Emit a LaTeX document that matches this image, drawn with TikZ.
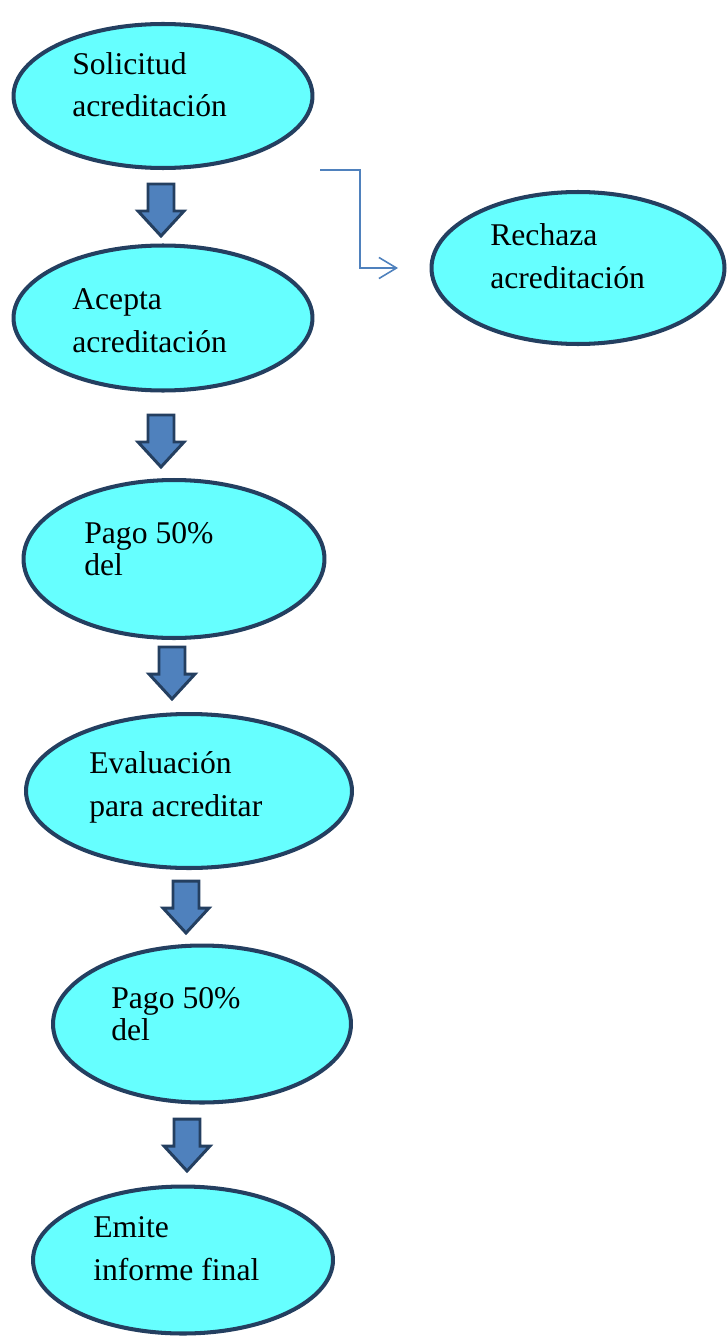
\documentclass[tikz,border=0pt]{standalone}
\usepackage{fontspec}
\setmainfont{Liberation Serif}
\usetikzlibrary{arrows.meta,shapes.geometric}

\definecolor{azul}{HTML}{4F81BD}
\definecolor{marino}{HTML}{243F60}
\definecolor{cian}{HTML}{66FFFF}

\tikzset{
  paso/.style={ellipse, draw=marino, line width=2.3pt, fill=cian, inner sep=0pt},
  texto/.style={anchor=base west, align=left, inner sep=0pt,
    font=\fontsize{18}{24}\selectfont},
  textocorto/.style={texto, font=\fontsize{18}{18}\selectfont},
  flecha/.style={draw=marino, fill=azul, line width=1.7pt, line join=miter},
  salto/.style={draw=azul, line width=0.9pt, -{Straight Barb[length=10pt,width=12pt]}}
}

\begin{document}
\begin{tikzpicture}[x=0.02cm, y=-0.02cm]
  % marco fijo (pixeles de la imagen)
  \useasboundingbox (0,0) rectangle (727,1338);

  % --- ELIPSES ---
  \node[paso, minimum width=5.98cm, minimum height=2.88cm] (solicitud) at (163,96) {};
  \node[paso, minimum width=5.98cm, minimum height=2.9cm]  (acepta)    at (163,318) {};
  \node[paso, minimum width=5.86cm, minimum height=3.04cm] (rechaza)   at (578,268) {};
  \node[paso, minimum width=6.02cm, minimum height=3.16cm] (pago1)     at (174,559) {};
  \node[paso, minimum width=6.52cm, minimum height=3.08cm] (evaluacion) at (189,791) {};
  \node[paso, minimum width=5.96cm, minimum height=3.14cm] (pago2)     at (202,1024) {};
  \node[paso, minimum width=6.0cm,  minimum height=2.94cm] (emite)     at (183,1260) {};

  % --- TEXTOS (base = linea inferior) ---
  \node[texto] (tsolicitud) at (72,117) {Solicitud\\acreditación};
  \node[texto] (tacepta) at (72,352) {Acepta\\acreditación};
  \node[texto] (trechaza) at (490,288) {Rechaza\\acreditación};
  \node[textocorto] (tpago1) at (84,575) {Pago 50\%\\del};
  \node[texto] (tevaluacion) at (89,816) {Evaluación\\para acreditar};
  \node[textocorto] (tpago2) at (111,1040) {Pago 50\%\\del};
  \node[texto] (temite) at (93,1280) {Emite\\informe final};

  % --- FLECHAS DE BLOQUE (centro x / arriba y) ---
  \foreach \cx/\ty in {161/184, 161/415, 172/647, 186/881, 187/1119}
    \draw[flecha] (\cx-13,\ty) -- (\cx+13,\ty) -- (\cx+13,\ty+27) -- (\cx+23,\ty+27)
      -- (\cx,\ty+52) -- (\cx-23,\ty+27) -- (\cx-13,\ty+27) -- cycle;

  % --- RAMA: rechazo ---
  \coordinate (r0) at (320,170);
  \coordinate (r1) at (398,268);
  \draw[salto] (r0) -- ++(40,0) |- (r1);

\end{tikzpicture}
\end{document}
